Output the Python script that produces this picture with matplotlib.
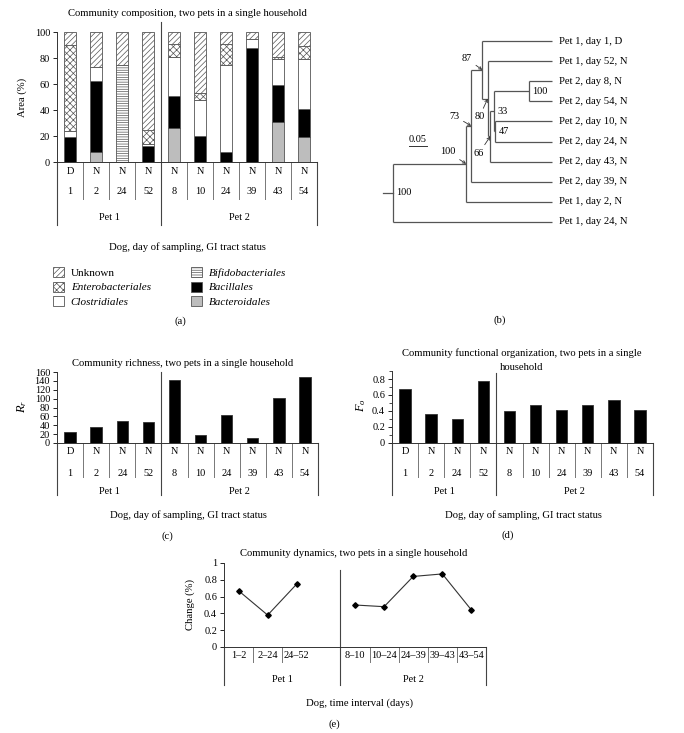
import numpy as np
import matplotlib
matplotlib.use("Agg")
import matplotlib.pyplot as plt
import matplotlib.transforms as mtransforms
from matplotlib.patches import Patch
from matplotlib.ticker import FuncFormatter, MultipleLocator

plt.rcParams['font.family'] = ['Liberation Serif', 'DejaVu Serif']
plt.rcParams['mathtext.fontset'] = 'custom'
plt.rcParams['mathtext.it'] = 'Liberation Serif:italic'
plt.rcParams['mathtext.rm'] = 'Liberation Serif'
plt.rcParams['hatch.linewidth'] = 0.5

W, H = 684, 733

# ---- data ----
status = ["D", "N", "N", "N", "N", "N", "N", "N", "N", "N"]
days = ["1", "2", "24", "52", "8", "10", "24", "39", "43", "54"]
pets = ["Pet 1", "Pet 2"]
pet_sizes = [4, 6]

# community composition, % area (bottom to top)
bacteroidales = [0, 8, 0, 0, 26.5, 0, 0, 0, 30.5, 19]
bacillales = [19, 54, 0, 12, 24, 20, 8, 88, 29, 22]
clostridiales = [5, 11, 0, 2, 30.5, 28, 67, 7, 19.5, 38]
bifidobacteriales = [0, 0, 75, 0, 0, 0, 0, 0, 0, 0]
enterobacteriales = [66, 0, 0, 11, 10, 5, 16, 0, 2, 10]
unknown = [10, 27, 25, 75, 9, 47, 9, 5, 19, 11]

richness = [25, 35, 50, 48, 142, 19, 64, 11, 101, 148]
func_org = [0.67, 0.36, 0.305, 0.78, 0.40, 0.47, 0.41, 0.47, 0.535, 0.41]

intervals_p1 = ["1\u20132", "2\u201324", "24\u201352"]
intervals_p2 = ["8\u201310", "10\u201324", "24\u201339", "39\u201343", "43\u201354"]
change_p1 = [0.67, 0.38, 0.75]
change_p2 = [0.50, 0.48, 0.84, 0.87, 0.44]

# dendrogram: node -> (distance from root, bootstrap, children); ints are leaves
tree_leaves = ["Pet 1, day 1, D", "Pet 1, day 52, N", "Pet 2, day 8, N", "Pet 2, day 54, N",
               "Pet 2, day 10, N", "Pet 2, day 24, N", "Pet 2, day 43, N", "Pet 2, day 39, N",
               "Pet 1, day 2, N", "Pet 1, day 24, N"]
tree_nodes = {
    "root": (0.0, 100, ["A", 9]),
    "A": (0.203, 100, ["B", 8]),
    "B": (0.217, 73, ["C", 7]),
    "C": (0.248, 87, [0, "D"]),
    "D": (0.263, 80, [1, "E"]),
    "E": (0.270, 66, ["F", 6]),
    "F": (0.281, 33, ["H", "G"]),
    "H": (0.378, 100, [2, 3]),
    "G": (0.284, 47, [4, 5]),
}
tip_depth = 0.442
root_stub = 0.028
# labels with arrows: offsets in points
arrow_offsets = {"A": (-13, 8.5), "B": (-12, 7), "C": (-11, 8), "D": (-6, -13), "E": (-8, -12)}

fig = plt.figure(figsize=(W / 100, H / 100), dpi=100)
FS = 7.4
INNER = "#777777"
OUTER = "#444444"


def fy(py):
    return 1 - py / H


def px_ax(l, t, r, b):
    return fig.add_axes([l / W, 1 - b / H, (r - l) / W, (b - t) / H])


def style_ax(ax):
    for s in ["top", "right"]:
        ax.spines[s].set_visible(False)
    for s in ["left", "bottom"]:
        ax.spines[s].set_color("#333333")
        ax.spines[s].set_linewidth(0.7)
    ax.tick_params(axis="y", direction="out", length=3, width=0.6, labelsize=FS, pad=2)
    ax.set_xticks([])
    ax.yaxis.set_major_formatter(FuncFormatter(lambda v, p: "%g" % v))


def cat_axis(ax, n, rows, rows_y, div_bottom, grp_y, grp_bottom, sep_top, skip_div=()):
    tr = mtransforms.blended_transform_factory(ax.transData, fig.transFigure)
    y0 = ax.get_position().y0
    for labels, py in zip(rows, rows_y):
        for i, lab in enumerate(labels):
            ax.text(i, fy(py), lab, transform=tr, ha="center", va="center", fontsize=FS, clip_on=False)
    start = 0
    for name, size in zip(pets, grp_sizes[ax]):
        ax.text(start - 0.5 + size / 2, fy(grp_y), name, transform=tr, ha="center", va="center",
                fontsize=FS, clip_on=False)
        for k in range(start, start + size - 1):
            if k in skip_div:
                continue
            ax.plot([k + 0.5, k + 0.5], [y0, fy(div_bottom)], transform=tr, color=INNER, lw=0.7, clip_on=False)
        start += size
    bounds = np.cumsum([0] + grp_sizes[ax]) - 0.5
    for j, b in enumerate(bounds):
        top = y0 if j in (0, len(bounds) - 1) else fy(sep_top)
        ax.plot([b, b], [top, fy(grp_bottom)], transform=tr, color=OUTER, lw=0.8, clip_on=False)
    ax.set_xlim(-0.5, n - 0.5)


grp_sizes = {}

# ---- (a) community composition ----
axa = px_ax(57, 32, 317, 162)
style_ax(axa)
xa = np.arange(len(days))
layers = [
    (bacteroidales, "#bdbdbd", None),
    (bacillales, "black", None),
    (clostridiales, "white", None),
    (bifidobacteriales, "white", "-------"),
    (enterobacteriales, "white", "xxxxx"),
    (unknown, "white", "//////"),
]
bottom = np.zeros(len(days))
for vals, fc, hatch in layers:
    axa.bar(xa, vals, 0.45, bottom=bottom, color=fc, edgecolor="#555555", linewidth=0.6, hatch=hatch)
    bottom += np.array(vals)
axa.set_ylim(0, 100)
axa.set_yticks(np.arange(0, 101, 20))
grp_sizes[axa] = pet_sizes
cat_axis(axa, len(days), [status, days], [172, 191], 199, 218, 225, 22)
fig.text(187 / W, fy(14), "Community composition, two pets in a single household", ha="center", va="center", fontsize=FS + 0.3)
fig.text(22 / W, fy(97), "Area (%)", rotation=90, ha="center", va="center", fontsize=FS + 0.3)
fig.text(187 / W, fy(247), "Dog, day of sampling, GI tract status", ha="center", va="center", fontsize=FS + 0.3)
fig.text(180 / W, fy(321), "(a)", ha="center", va="center", fontsize=FS + 0.3)

handles = [
    Patch(facecolor="white", edgecolor="#555555", hatch="//////", lw=0.6, label="Unknown"),
    Patch(facecolor="white", edgecolor="#555555", hatch="xxxxx", lw=0.6, label="Enterobacteriales"),
    Patch(facecolor="white", edgecolor="#555555", lw=0.6, label="Clostridiales"),
    Patch(facecolor="white", edgecolor="#555555", hatch="-------", lw=0.6, label="Bifidobacteriales"),
    Patch(facecolor="black", edgecolor="#555555", lw=0.6, label="Bacillales"),
    Patch(facecolor="#bdbdbd", edgecolor="#555555", lw=0.6, label="Bacteroidales"),
]
leg = fig.legend(handles=handles, ncol=2, loc="upper left", bbox_to_anchor=(53 / W, fy(267)),
                 frameon=False, fontsize=FS + 0.6, handlelength=1.0, handleheight=1.0,
                 handletextpad=0.6, labelspacing=0.35, columnspacing=3.6, borderpad=0, borderaxespad=0)
for t in leg.get_texts():
    if t.get_text() != "Unknown":
        t.set_style("italic")

# ---- (b) dendrogram ----
axb = px_ax(360, 30, 684, 330)
axb.axis("off")
tree_col = "#555555"
pos = {}


def draw(node):
    if isinstance(node, int):
        return node
    h, sup, kids = tree_nodes[node]
    ys = [draw(k) for k in kids]
    y = (ys[0] + ys[-1]) / 2
    pos[node] = (h, y)
    for k, yk in zip(kids, ys):
        xk = tip_depth if isinstance(k, int) else tree_nodes[k][0]
        axb.plot([h, xk], [yk, yk], color=tree_col, lw=0.9, solid_capstyle="butt")
    axb.plot([h, h], [ys[0], ys[-1]], color=tree_col, lw=0.9, solid_capstyle="butt")
    return y


ry = draw("root")
axb.plot([-root_stub, 0], [ry, ry], color=tree_col, lw=0.9)
for i, lab in enumerate(tree_leaves):
    axb.annotate(lab, (tip_depth, i), xytext=(5, 0), textcoords="offset points", va="center",
                 ha="left", fontsize=FS + 0.3)
for name, (h, y) in pos.items():
    sup = str(tree_nodes[name][1])
    if name in arrow_offsets:
        axb.annotate(sup, (h, y), xytext=arrow_offsets[name], textcoords="offset points",
                     ha="center", va="center", fontsize=FS,
                     arrowprops=dict(arrowstyle="->", color="#333333", lw=0.6, shrinkA=1, shrinkB=0,
                                     mutation_scale=5))
    else:
        axb.annotate(sup, (h, y), xytext=(2.5, 0), textcoords="offset points", ha="left",
                     va="center", fontsize=FS)
axb.set_xlim(-33 / 360, 291 / 360)
axb.set_ylim((330 - 41) / 20.1, (30 - 41) / 20.1)
axb.plot([0.044, 0.094], [5.2, 5.2], color="#333333", lw=0.7)
axb.annotate("0.05", (0.069, 5.2), xytext=(0, 1), textcoords="offset points", ha="center", va="bottom", fontsize=FS)
fig.text(500 / W, fy(320), "(b)", ha="center", va="center", fontsize=FS + 0.3)

# ---- (c) richness ----
axc = px_ax(57, 372, 318, 443)
style_ax(axc)
axc.bar(np.arange(len(days)), richness, 0.44, color="black", edgecolor="#333333", linewidth=0.6)
axc.set_ylim(0, 160)
axc.set_yticks(np.arange(0, 161, 20))
grp_sizes[axc] = pet_sizes
cat_axis(axc, len(days), [status, days], [452, 473], 477, 491, 495, 372)
fig.text(183 / W, fy(363), "Community richness, two pets in a single household", ha="center", va="center", fontsize=FS + 0.3)
fig.text(22 / W, fy(407), "$R_r$", rotation=90, ha="center", va="center", fontsize=FS + 1.5)
fig.text(188 / W, fy(515), "Dog, day of sampling, GI tract status", ha="center", va="center", fontsize=FS + 0.3)
fig.text(167 / W, fy(536), "(c)", ha="center", va="center", fontsize=FS + 0.3)

# ---- (d) functional organization ----
axd = px_ax(392, 371, 653, 443)
style_ax(axd)
axd.bar(np.arange(len(days)), func_org, 0.44, color="black", edgecolor="#333333", linewidth=0.6)
axd.set_ylim(0, 0.9)
axd.set_yticks(np.arange(0, 0.81, 0.2))
axd.yaxis.set_minor_locator(MultipleLocator(0.1))
axd.tick_params(axis="y", which="minor", direction="out", length=2, width=0.5)
grp_sizes[axd] = pet_sizes
cat_axis(axd, len(days), [status, days], [452, 473], 477, 491, 495, 373)
fig.text(522 / W, fy(353), "Community functional organization, two pets in a single",
         ha="center", va="center", fontsize=FS + 0.3)
fig.text(522 / W, fy(367), "household", ha="center", va="center", fontsize=FS + 0.3)
fig.text(361 / W, fy(405), "$F_o$", rotation=90, ha="center", va="center", fontsize=FS + 1.5)
fig.text(523 / W, fy(515), "Dog, day of sampling, GI tract status", ha="center", va="center", fontsize=FS + 0.3)
fig.text(508 / W, fy(535), "(d)", ha="center", va="center", fontsize=FS + 0.3)

# ---- (e) dynamics ----
axe = px_ax(224, 563, 486, 647)
style_ax(axe)
x1 = np.arange(len(change_p1))
x2 = np.arange(len(change_p2)) + len(change_p1) + 1
axe.plot(x1, change_p1, color="#333333", lw=0.8, marker="D", ms=2.8, mfc="black", mec="black")
axe.plot(x2, change_p2, color="#333333", lw=0.8, marker="D", ms=2.8, mfc="black", mec="black")
axe.set_ylim(0, 1)
axe.set_yticks(np.arange(0, 1.01, 0.2))
grp_sizes[axe] = [len(change_p1) + 1, len(change_p2)]
cat_axis(axe, len(change_p1) + 1 + len(change_p2), [intervals_p1 + [""] + intervals_p2], [656], 662,
         680, 685, 570, skip_div=(len(change_p1) - 1,))
fig.text(354 / W, fy(554), "Community dynamics, two pets in a single household", ha="center", va="center", fontsize=FS + 0.3)
fig.text(190 / W, fy(604), "Change (%)", rotation=90, ha="center", va="center", fontsize=FS + 0.3)
fig.text(359 / W, fy(703), "Dog, time interval (days)", ha="center", va="center", fontsize=FS + 0.3)
fig.text(334 / W, fy(724), "(e)", ha="center", va="center", fontsize=FS + 0.3)

fig.savefig("out.png", dpi=100)
